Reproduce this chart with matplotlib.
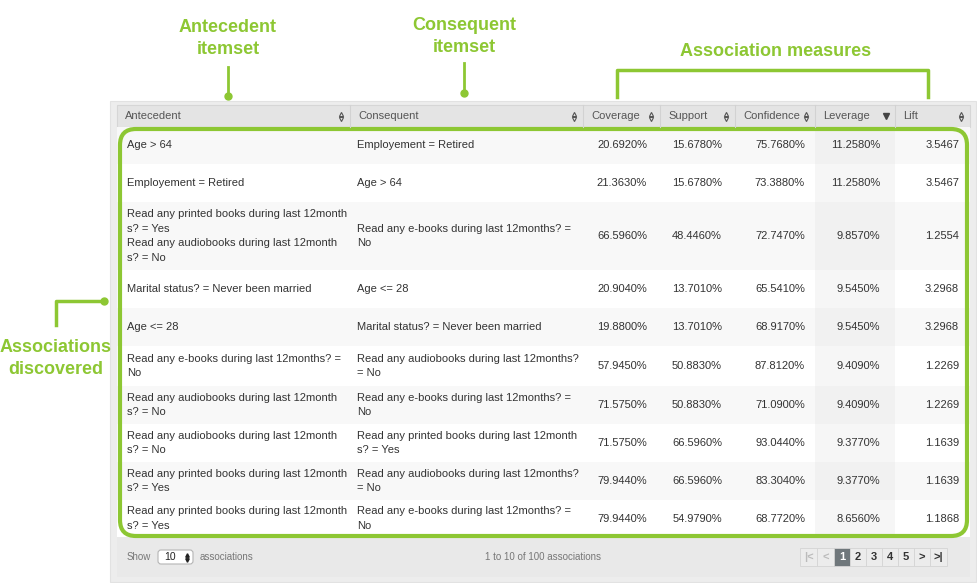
import matplotlib.pyplot as plt
from matplotlib.patches import Rectangle, FancyBboxPatch

plt.rcParams['font.family'] = ['Liberation Sans', 'DejaVu Sans']

# daten der tabelle
columns = ['Antecedent', 'Consequent', 'Coverage', 'Support', 'Confidence', 'Leverage', 'Lift']
antecedents = [
    'Age > 64',
    'Employement = Retired',
    'Read any printed books during last 12month\ns? = Yes\nRead any audiobooks during last 12month\ns? = No',
    'Marital status? = Never been married',
    'Age <= 28',
    'Read any e-books during last 12months? =\nNo',
    'Read any audiobooks during last 12month\ns? = No',
    'Read any audiobooks during last 12month\ns? = No',
    'Read any printed books during last 12month\ns? = Yes',
    'Read any printed books during last 12month\ns? = Yes',
]
consequents = [
    'Employement = Retired',
    'Age > 64',
    'Read any e-books during last 12months? =\nNo',
    'Age <= 28',
    'Marital status? = Never been married',
    'Read any audiobooks during last 12months?\n= No',
    'Read any e-books during last 12months? =\nNo',
    'Read any printed books during last 12month\ns? = Yes',
    'Read any audiobooks during last 12months?\n= No',
    'Read any e-books during last 12months? =\nNo',
]
coverage = [20.692, 21.363, 66.596, 20.904, 19.880, 57.945, 71.575, 71.575, 79.944, 79.944]
support = [15.678, 15.678, 48.446, 13.701, 13.701, 50.883, 50.883, 66.596, 66.596, 54.979]
confidence = [75.768, 73.388, 72.747, 65.541, 68.917, 87.812, 71.090, 93.044, 83.304, 68.772]
leverage = [11.258, 11.258, 9.857, 9.545, 9.545, 9.409, 9.409, 9.377, 9.377, 8.656]
lift = [3.5467, 3.5467, 1.2554, 3.2968, 3.2968, 1.2269, 1.2269, 1.1639, 1.1639, 1.1868]
pages = ['1', '2', '3', '4', '5']

green = '#8DC733'
txt = '#333333'

fig = plt.figure(figsize=(9.78, 5.83), dpi=100)
ax = fig.add_axes([0, 0, 1, 1])
ax.set_xlim(0, 978)
ax.set_ylim(583, 0)
ax.axis('off')

# panel
ax.add_patch(Rectangle((110, 101), 866, 481, fc='#ededed', ec='#e2e2e2', lw=0.8))
col_x = [117, 350, 583, 660, 735, 815, 895, 970]
row_y = [127, 164, 202, 270, 308, 346, 386, 424, 462, 500, 537]

# kopfzeile
ax.add_patch(Rectangle((117, 105), 853, 22, fc='#e4e4e4', ec='#d6d6d6', lw=0.8))
for i, name in enumerate(columns):
    x0, x1 = col_x[i], col_x[i + 1]
    if i > 0:
        ax.plot([x0, x0], [105, 127], color='#d2d2d2', lw=0.8)
    ax.text(x0 + 8, 116, name, fontsize=8, color='#555555', va='center')
    if name == 'Leverage':
        ax.plot(x1 - 9, 116, marker='v', ms=4, color='#444444')
    else:
        ax.plot(x1 - 9, 113.5, marker='^', ms=3, color='#555555', mfc='none', mew=0.8)
        ax.plot(x1 - 9, 118.5, marker='v', ms=3, color='#555555', mfc='none', mew=0.8)

# zeilen
for r in range(10):
    y0, y1 = row_y[r], row_y[r + 1]
    bg = '#f8f8f8' if r % 2 == 0 else '#ffffff'
    lev_bg = '#f1f1f1' if r % 2 == 0 else '#f6f6f6'
    ax.add_patch(Rectangle((117, y0), 853, y1 - y0, fc=bg, ec='none'))
    ax.add_patch(Rectangle((815, y0), 80, y1 - y0, fc=lev_bg, ec='none'))
    ym = (y0 + y1) / 2
    ax.text(127, ym, antecedents[r], fontsize=8, color=txt, va='center', linespacing=1.55)
    ax.text(357, ym, consequents[r], fontsize=8, color=txt, va='center', linespacing=1.55)
    ax.text(647, ym, '%.4f%%' % coverage[r], fontsize=8, color=txt, va='center', ha='right')
    ax.text(722, ym, '%.4f%%' % support[r], fontsize=8, color=txt, va='center', ha='right')
    ax.text(805, ym, '%.4f%%' % confidence[r], fontsize=8, color=txt, va='center', ha='right')
    ax.text(880, ym, '%.4f%%' % leverage[r], fontsize=8, color=txt, va='center', ha='right')
    ax.text(959, ym, '%.4f' % lift[r], fontsize=8, color=txt, va='center', ha='right')

# fusszeile
ax.add_patch(Rectangle((117, 537), 853, 40, fc='#e9e9e9', ec='none'))
ax.text(127, 557, 'Show', fontsize=7, color='#777777', va='center')
ax.add_patch(FancyBboxPatch((158, 550), 35, 14, boxstyle='round,pad=0,rounding_size=3',
                            fc='#ffffff', ec='#b5b5b5', lw=0.8))
ax.text(164, 557, '10', fontsize=7.5, color='#222222', va='center')
ax.plot(187, 554.5, marker='^', ms=2.5, color='#222222')
ax.plot(187, 559.5, marker='v', ms=2.5, color='#222222')
ax.text(200, 557, 'associations', fontsize=7, color='#777777', va='center')
ax.text(543, 557, '1 to 10 of 100 associations', fontsize=7, color='#777777', va='center', ha='center')

btn_labels = ['|<', '<'] + pages + ['>', '>|']
bx = 800
btn_w = [17, 17, 16, 16, 16, 16, 16, 16, 17]
for i, lab in enumerate(btn_labels):
    w = btn_w[i]
    fc = '#6f777b' if lab == '1' else '#ececec'
    ax.add_patch(Rectangle((bx, 548), w, 18, fc=fc, ec='#d4d4d4', lw=0.6))
    if lab == '1':
        col = 'white'
    elif lab in ('|<', '<'):
        col = '#bbbbbb'
    else:
        col = '#333333'
    ax.text(bx + w / 2, 557.5, lab, fontsize=8, color=col, va='center', ha='center',
            fontweight='bold')
    bx += w

# gruener rahmen
ax.add_patch(FancyBboxPatch((120, 129), 847, 407, boxstyle='round,pad=0,rounding_size=16',
                            fc='none', ec=green, lw=3))

# beschriftungen
ann = dict(color=green, fontweight='bold', ha='center', va='center', fontsize=13)
ax.text(228, 28, 'Antecedent', **ann)
ax.text(228, 50, 'itemset', **ann)
ax.plot([228, 228], [67, 96], color=green, lw=2)
ax.plot(228, 96, 'o', color=green, ms=5)
ax.text(464, 25, 'Consequent', **ann)
ax.text(464, 47, 'itemset', **ann)
ax.plot([464, 464], [63, 93], color=green, lw=2)
ax.plot(464, 93, 'o', color=green, ms=5)
ax.text(776, 52, 'Association measures', **ann)
ax.plot([617, 617, 928, 928], [97, 70, 70, 97], color=green, lw=2.5)
ax.text(56, 348, 'Associations', **ann)
ax.text(56, 369, 'discovered', **ann)
ax.plot([56, 56, 104], [325, 301, 301], color=green, lw=2.5)
ax.plot(104, 301, 'o', color=green, ms=5)

fig.savefig('out.png', dpi=100)
